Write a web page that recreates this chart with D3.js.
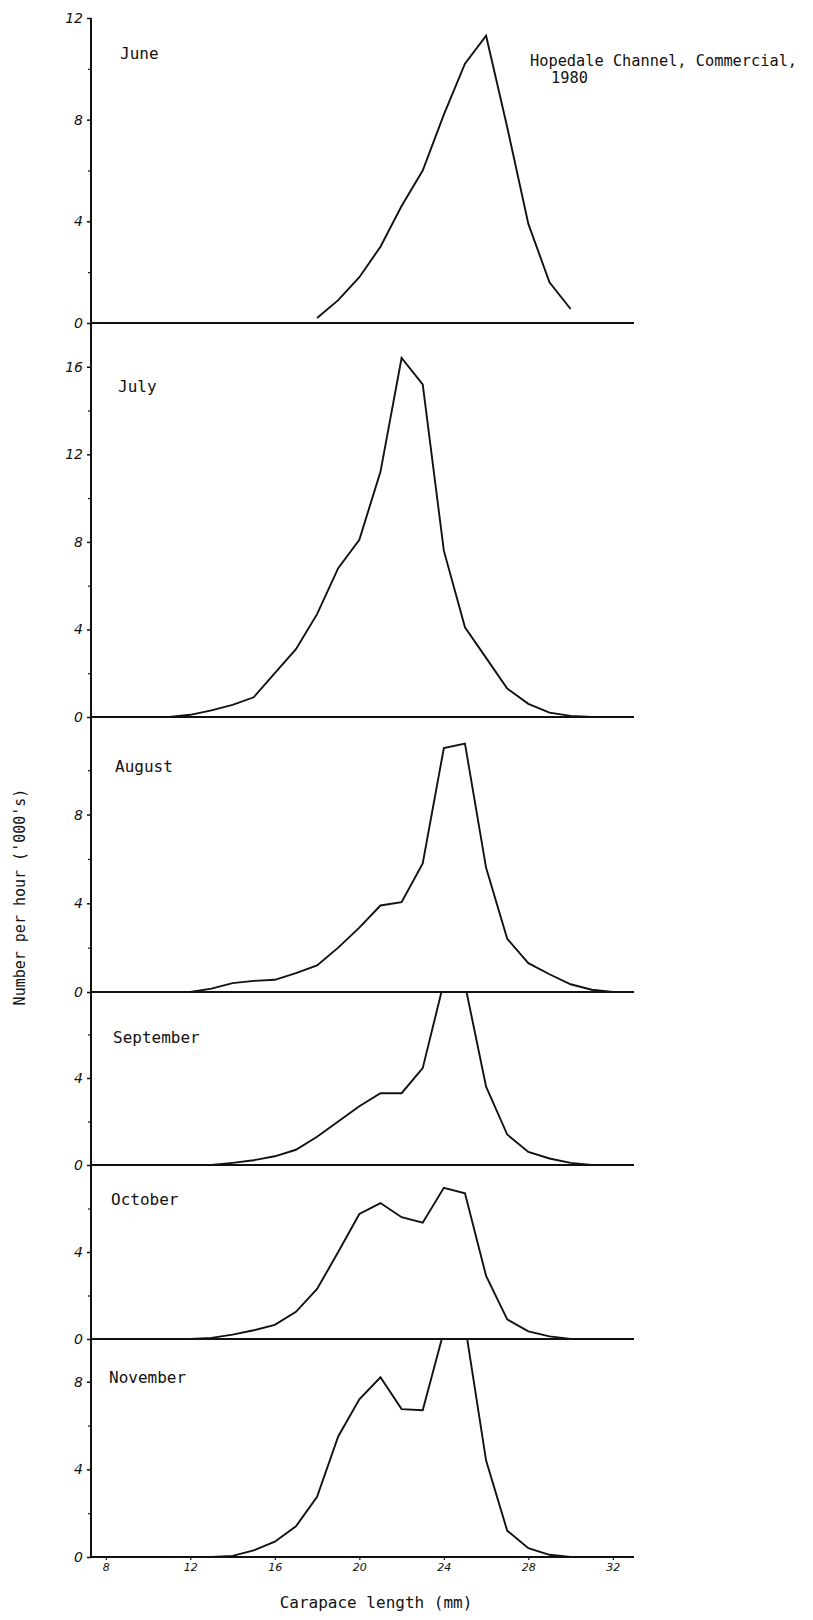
<!DOCTYPE html>
<html>
<head>
<meta charset="utf-8">
<script src="https://cdn.jsdelivr.net/npm/d3@7"></script>
<style>
	body { margin: 0; background: #fff; }
	svg { display: block; }
	.tick text { font-family: "DejaVu Sans", sans-serif; font-style: italic; fill: #111; }
	.mono { font-family: "DejaVu Sans Mono", monospace; fill: #111; }
</style>
</head>
<body>
<div id="chart"></div>
<script>

// carapace length (mm), one value per mm
const carapaceMm = [8, 9, 10, 11, 12, 13, 14, 15, 16, 17, 18, 19, 20, 21, 22, 23, 24, 25, 26, 27, 28, 29, 30, 31, 32];

// number per hour ('000's); null = not plotted
const june = [null, null, null, null, null, null, null, null, null, null, 0.2, 0.9, 1.8, 3.0, 4.6, 6.0, 8.2, 10.2, 11.3, 7.7, 3.9, 1.6, 0.55, null, null];
const july = [0, 0, 0, 0, 0.1, 0.3, 0.55, 0.9, 2.0, 3.1, 4.7, 6.8, 8.1, 11.2, 16.4, 15.2, 7.6, 4.1, 2.7, 1.3, 0.6, 0.2, 0.05, 0, 0];
const august = [0, 0, 0, 0, 0, 0.15, 0.4, 0.5, 0.55, 0.85, 1.2, 2.0, 2.9, 3.9, 4.05, 5.8, 11.0, 11.2, 5.6, 2.4, 1.3, 0.8, 0.35, 0.1, 0];
const september = [0, 0, 0, 0, 0, 0, 0.1, 0.22, 0.4, 0.7, 1.3, 2.0, 2.7, 3.3, 3.3, 4.45, 8.4, 8.3, 3.6, 1.4, 0.6, 0.3, 0.1, 0, 0];
const october = [0, 0, 0, 0, 0, 0.05, 0.2, 0.4, 0.65, 1.25, 2.3, 4.0, 5.75, 6.25, 5.6, 5.35, 6.95, 6.7, 2.9, 0.9, 0.35, 0.12, 0, 0, 0];
const november = [0, 0, 0, 0, 0, 0, 0.05, 0.3, 0.7, 1.4, 2.75, 5.5, 7.2, 8.2, 6.75, 6.7, 10.3, 10.6, 4.4, 1.2, 0.4, 0.1, 0, 0, 0];

const months = ["June", "July", "August", "September", "October", "November"];
const series = [june, july, august, september, october, november];
const yMax = [12, 18, 12.4, 7.95, 8, 9.95];
const yMajorTicks = [[0, 4, 8, 12], [0, 4, 8, 12, 16], [0, 4, 8], [0, 4], [0, 4], [0, 4, 8]];
const xTicks = [8, 12, 16, 20, 24, 28, 32];
const xDomain = [7.3, 33];

const WIDTH = 813;
const HEIGHT = 1620;
const LEFT = 91;
const RIGHT = 634;
// panel top / bottom in px
const panelTops = [18, 323, 717, 992, 1165, 1339];
const panelBottoms = [323, 717, 992, 1165, 1339, 1557];
const labelBaselines = [59, 392, 772, 1043, 1205, 1383];
const labelX = [120, 118, 115, 113, 111, 109];

const svg = d3.select("#chart").append("svg")
	.attr("width", WIDTH)
	.attr("height", HEIGHT);

const x = d3.scaleLinear()
	.domain(xDomain)
	.range([LEFT, RIGHT]);

months.forEach((month, i) => {

	const top = panelTops[i];
	const bottom = panelBottoms[i];

	const y = d3.scaleLinear()
		.domain([0, yMax[i]])
		.range([bottom, top]);

	const g = svg.append("g");

	svg.append("clipPath")
		.attr("id", "clip-" + i)
		.append("rect")
		.attr("x", LEFT)
		.attr("y", top)
		.attr("width", RIGHT - LEFT)
		.attr("height", bottom - top);

	// minor ticks every 2
	const minor = d3.range(2, yMax[i], 4);
	g.append("g")
		.attr("transform", `translate(${LEFT},0)`)
		.call(d3.axisLeft(y).tickValues(minor).tickSize(3).tickFormat(""))
		.call(a => a.select(".domain").remove())
		.call(a => a.selectAll("line").attr("stroke", "#111").attr("stroke-width", 1.2));

	g.append("g")
		.attr("transform", `translate(${LEFT},0)`)
		.call(d3.axisLeft(y).tickValues(yMajorTicks[i]).tickSize(4).tickPadding(4).tickFormat(d3.format("d")))
		.call(a => a.select(".domain").remove())
		.call(a => a.selectAll("line").attr("stroke", "#111").attr("stroke-width", 1.5))
		.call(a => a.selectAll("text").attr("font-size", 14));

	// axis line
	g.append("line")
		.attr("x1", LEFT).attr("x2", LEFT)
		.attr("y1", top).attr("y2", bottom)
		.attr("stroke", "#111")
		.attr("stroke-width", 2);

	// baseline
	g.append("line")
		.attr("x1", LEFT).attr("x2", RIGHT)
		.attr("y1", bottom).attr("y2", bottom)
		.attr("stroke", "#111")
		.attr("stroke-width", 2.2);

	const line = d3.line()
		.defined(d => d[1] != null)
		.x(d => x(d[0]))
		.y(d => y(d[1]));

	g.append("path")
		.datum(carapaceMm.map((mm, j) => [mm, series[i][j]]))
		.attr("clip-path", `url(#clip-${i})`)
		.attr("fill", "none")
		.attr("stroke", "#111")
		.attr("stroke-width", 1.9)
		.attr("stroke-linejoin", "miter")
		.attr("d", line);

	g.append("text")
		.attr("class", "mono")
		.attr("x", labelX[i])
		.attr("y", labelBaselines[i])
		.attr("font-size", 16)
		.text(month);

	if (i === months.length - 1) {
		svg.append("g")
			.attr("transform", `translate(0,${bottom})`)
			.call(d3.axisBottom(x).tickValues(xTicks).tickSize(3).tickPadding(3).tickFormat(d3.format("d")))
			.call(a => a.select(".domain").remove())
			.call(a => a.selectAll("line").attr("stroke", "#111").attr("stroke-width", 1.2))
			.call(a => a.selectAll("text").attr("font-size", 11));
	}
});

// title
svg.append("text")
	.attr("class", "mono")
	.attr("x", 530)
	.attr("y", 66)
	.attr("font-size", 15.3)
	.text("Hopedale Channel, Commercial,");

svg.append("text")
	.attr("class", "mono")
	.attr("x", 551)
	.attr("y", 83)
	.attr("font-size", 15.3)
	.text("1980");

// axis titles
svg.append("text")
	.attr("class", "mono")
	.attr("transform", "translate(25,897) rotate(-90)")
	.attr("text-anchor", "middle")
	.attr("font-size", 15)
	.text("Number per hour ('000's)");

svg.append("text")
	.attr("class", "mono")
	.attr("x", 376)
	.attr("y", 1608)
	.attr("text-anchor", "middle")
	.attr("font-size", 16)
	.text("Carapace length (mm)");

</script>
</body>
</html>
